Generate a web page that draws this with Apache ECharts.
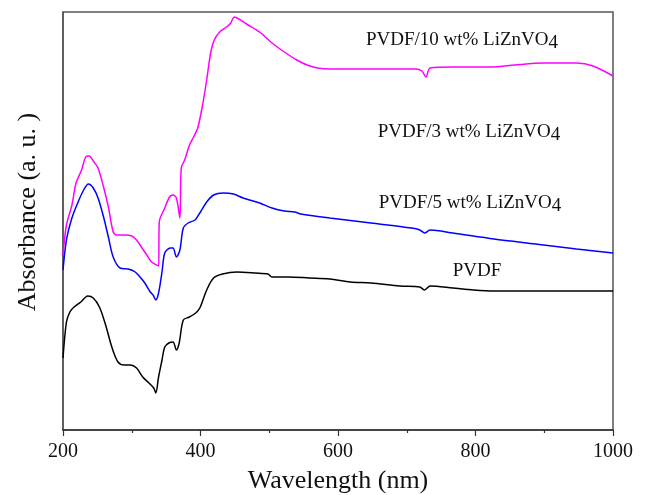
<!DOCTYPE html>
<html>
<head>
<meta charset="utf-8">
<script src="https://cdn.jsdelivr.net/npm/echarts@6/dist/echarts.min.js"></script>
<style>
html,body{margin:0;padding:0;background:#fff;}
#chart{width:646px;height:495px;}
</style>
</head>
<body>
<div id="chart"></div>
<script>
// Wavelength ticks
const xTicks = [200, 400, 600, 800, 1000];

// PVDF (black)
const pvdfWl  = [200,205,210,216,226,236,244,253,262,271,280,289,298,307,316,325,332,335,339,344,348,354,360,365,369,375,384,393,399,409,419,432,453,480,498,504,528,558,588,618,648,690,719,726,734,767,797,827,887,947,1000];
const pvdfAbs = [72,108,118,123,128,134,132,123,105,83,68,65,65,62,53,47,42,37,53,70,83,87,88,80,87,110,113,117,122,140,152,156,158,157,156,153,153,152,151,148,147,144,143,140,144,142,140,139,139,139,139];

// PVDF/5 wt% LiZnVO4 (blue)
const pvdf5Wl  = [200,205,213,222,230,237,244,251,259,266,273,283,295,305,312,319,327,331,335,339,344,348,356,360,365,370,375,382,392,399,409,419,433,448,462,486,504,522,537,546,588,648,707,719,726,734,767,827,887,947,1000];
const pvdf5Abs = [160,190,212,228,240,246,242,232,213,193,173,162,161,158,153,147,138,135,130,137,158,177,182,182,173,180,202,207,210,217,228,235,237,236,232,227,222,219,218,216,212,207,202,200,197,200,197,191,186,181,177];

// PVDF/10 wt% LiZnVO4 (magenta)
const pvdf10Wl  = [200,205,213,219,227,233,238,245,251,259,266,273,278,290,300,307,314,322,329,339,340,348,355,360,365,370,372,377,384,390,396,403,409,415,420,428,438,444,449,456,467,486,504,522,540,555,570,588,618,648,678,713,722,728,734,767,827,857,899,947,971,1000];
const pvdf10Abs = [175,205,225,247,260,273,274,268,262,243,223,198,195,195,194,190,183,175,168,164,208,222,233,235,232,212,262,270,285,293,302,325,350,378,390,398,403,407,413,411,406,398,387,378,370,365,362,361,361,361,361,361,359,353,362,363,363,365,367,367,364,354];

const seriesNames = ['PVDF', 'PVDF/5 wt% LiZnVO4', 'PVDF/10 wt% LiZnVO4'];
const seriesColors = ['#000000', '#0000ff', '#ff00ff'];

function pairs(xs, ys) { return xs.map((x, i) => [x, ys[i]]); }

const chart = echarts.init(document.getElementById('chart'), null, {renderer: 'canvas'});
const FONT = '"Liberation Serif", "Times New Roman", serif';

const richLabel = (main) => ({
  type: 'text',
  silent: true,
  style: {
    text: '{n|' + main + '}{s|4}',
    rich: {
      n: {fontFamily: FONT, fontSize: 19, fill: '#111'},
      s: {fontFamily: FONT, fontSize: 19, fill: '#111', padding: [6, 0, 0, 0]}
    },
    align: 'center',
    verticalAlign: 'middle'
  }
});

chart.setOption({
  animation: false,
  backgroundColor: '#ffffff',
  grid: {left: 63, right: 33, top: 12, bottom: 65, show: true, borderColor: '#555', borderWidth: 1.5, containLabel: false, outerBoundsMode: 'none'},
  xAxis: {
    type: 'value', min: 200, max: 1000, interval: 200,
    axisLine: {show: true, lineStyle: {color: '#333', width: 1.5}},
    axisTick: {show: true, inside: false, length: 6, lineStyle: {color: '#333', width: 1.2}},
    minorTick: {show: true, splitNumber: 2, length: 3, lineStyle: {color: '#333', width: 1.2}},
    splitLine: {show: false},
    axisLabel: {color: '#111', fontFamily: FONT, fontSize: 20, margin: 12, formatter: (v) => String(v)},
    name: 'Wavelength (nm)', nameLocation: 'middle', nameGap: 38,
    nameTextStyle: {color: '#111', fontFamily: FONT, fontSize: 26}
  },
  yAxis: {
    type: 'value', min: 0, max: 418,
    axisLine: {show: true, lineStyle: {color: '#555', width: 1.5}},
    axisTick: {show: false}, axisLabel: {show: false}, splitLine: {show: false}
  },
  series: [
    {name: seriesNames[0], type: 'line', data: pairs(pvdfWl, pvdfAbs), showSymbol: false, smooth: 0.3, lineStyle: {color: seriesColors[0], width: 1.5}, itemStyle: {color: seriesColors[0]}},
    {name: seriesNames[1], type: 'line', data: pairs(pvdf5Wl, pvdf5Abs), showSymbol: false, smooth: 0.3, lineStyle: {color: seriesColors[1], width: 1.5}, itemStyle: {color: seriesColors[1]}},
    {name: seriesNames[2], type: 'line', data: pairs(pvdf10Wl, pvdf10Abs), showSymbol: false, smooth: 0.3, lineStyle: {color: seriesColors[2], width: 1.5}, itemStyle: {color: seriesColors[2]}}
  ],
  graphic: [
    Object.assign(richLabel('PVDF/10 wt% LiZnVO'), {x: 462, y: 40}),
    Object.assign(richLabel('PVDF/3 wt% LiZnVO'), {x: 469, y: 132}),
    Object.assign(richLabel('PVDF/5 wt% LiZnVO'), {x: 470, y: 203}),
    {type: 'text', x: 477, y: 271, silent: true, style: {text: 'PVDF', fontFamily: FONT, fontSize: 19, fill: '#111', align: 'center', verticalAlign: 'middle'}},
    {type: 'text', x: 28, y: 212, rotation: Math.PI / 2, silent: true, style: {text: 'Absorbance (a. u. )', fontFamily: FONT, fontSize: 26, fill: '#111', align: 'center', verticalAlign: 'middle'}}
  ]
});
</script>
</body>
</html>
